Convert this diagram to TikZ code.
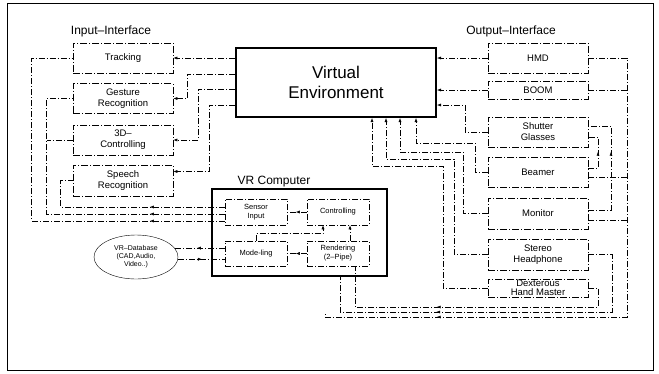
\documentclass[tikz,border=0pt]{standalone}
\usepackage{fontspec}
\setmainfont{Liberation Sans}
\usetikzlibrary{arrows.meta,shapes.geometric,decorations.markings}

\tikzset{
  link/.style={dash pattern=on 6pt off 2pt on 1pt off 2pt, line width=0.5pt},
  headarrow/.style={-{Latex[length=4pt,width=3pt]}},
  midtip/.style={postaction={decorate}, decoration={markings, mark=at position #1 with {\arrow{Latex[length=4pt,width=3pt]}}}},
  dev/.style={draw, dash pattern=on 7pt off 2pt on 1pt off 2pt, line width=0.6pt, minimum width=100pt, minimum height=30pt, inner sep=1pt, align=center, font=\fontsize{9.5}{11}\selectfont},
  unit/.style={draw, dash pattern=on 6pt off 2pt on 1pt off 2pt, line width=0.5pt, minimum width=62pt, minimum height=26pt, inner sep=1pt, align=center, font=\fontsize{7.5}{9}\selectfont},
  thickbox/.style={draw, line width=2pt, inner sep=0pt, align=center},
  grouplabel/.style={font=\fontsize{12}{14}\selectfont}
}

\begin{document}
\begin{tikzpicture}[x=1pt,y=-1pt]
  \useasboundingbox (0,0) rectangle (659,373);
  \draw[line width=1pt] (7,3) rectangle (653,370);

  \node[grouplabel] (inlbl) at (111,31) {Input--Interface};
  \node[grouplabel] (outlbl) at (511,31) {Output--Interface};
  \node[grouplabel] (vrlbl) at (274,182) {VR Computer};

  \node[thickbox, minimum width=200pt, minimum height=69pt, font=\fontsize{17}{20}\selectfont] (ve) at (336,82.5) {Virtual\\Environment};
  \node[thickbox, minimum width=175pt, minimum height=87pt] (vrc) at (299.5,232.5) {};

  \node[dev] (track) at (123,58) {Tracking};
  \node[dev] (gest) at (123,98.5) {Gesture\\Recognition};
  \node[dev] (ctl) at (123,140) {3D--\\Controlling};
  \node[dev, minimum height=31pt] (speech) at (123,180.5) {Speech\\Recognition};

  \node[dev] (hmd) at (538,58) {HMD};
  \node[dev, minimum height=18pt] (boom) at (538,90) {BOOM};
  \node[dev] (shutter) at (538,132) {Shutter\\Glasses};
  \node[dev] (beamer) at (538,172) {Beamer};
  \node[dev, minimum height=31pt] (monitor) at (538,213.5) {Monitor};
  \node[dev, minimum height=31pt] (phone) at (538,254.5) {Stereo\\Headphone};
  \node[dev, minimum height=18pt] (dexhand) at (538,288) {};
  \node[align=center, font=\fontsize{9.5}{9}\selectfont] (dexlbl) at (dexhand) {Dexterous\\Hand Master};

  \node[unit] (sensor) at (256,212) {Sensor\\Input};
  \node[unit] (control) at (338,212) {Controlling};
  \node[unit, minimum height=25pt] (model) at (256,253.5) {Mode-ling};
  \node[unit, minimum height=25pt] (render) at (338,253.5) {Rendering\\(2--Pipe)};
  \node[draw, ellipse, minimum width=84pt, minimum height=44pt, inner sep=0pt, align=center, font=\fontsize{7}{8}\selectfont] (vrdb) at (136,257) {VR--Database\\(CAD,Audio,\\Video..)};

  \draw[link,headarrow] (ve.west |- track.east) -- (track.east);
  \draw[link,headarrow] (ve.west |- 0,74) -| ([xshift=14pt]gest.east) -- (gest.east);
  \draw[link,headarrow] (ve.west |- 0,89) -| ([xshift=25pt]ctl.east) -- (ctl.east);
  \draw[link,headarrow] (ve.west |- 0,105) -| ([xshift=36pt,yshift=9pt]speech.east) -- ([yshift=9pt]speech.east);

  \draw[link,midtip=75pt] (sensor.west |- 0,221) -| ([xshift=-41pt]track.west) -- (track.west);
  \draw[link,midtip=75pt] (sensor.west |- 0,214) -| ([xshift=-26pt]gest.west) -- (gest.west);
  \draw[link] (ctl.west) -- ([xshift=-26pt]ctl.west);
  \draw[link,midtip=75pt] (sensor.west |- 0,207) -| ([xshift=-12pt]speech.west) -- (speech.west);

  \draw[link,midtip=11pt] (control.west) -- (sensor.east);
  \draw[link,midtip=11pt] (render.west) -- (model.east);
  \draw[link,headarrow] (model.north) |- ([xshift=-15pt,yshift=-8pt]control.south) -- ([xshift=-15pt]control.south);
  \draw[link,headarrow] ([xshift=12pt]render.north) -- ([xshift=12pt]control.south);

  \draw[link,midtip=28pt] (model.west |- vrdb.13) -- (vrdb.13);
  \draw[link,midtip=24pt] (vrdb.-3) -- (model.west |- vrdb.-3);

  \draw[link,headarrow] (hmd.west) -- (ve.east |- hmd.west);
  \draw[link,headarrow] (boom.west) -- (ve.east |- boom.west);
  \draw[link,headarrow] (shutter.west) -| (465,105) -- (ve.east |- 0,105);

  \draw[link,headarrow] (beamer.west) -| (475,143) -| ([xshift=80pt]ve.south);
  \draw[link,headarrow] (monitor.west) -| (463,152) -| ([xshift=64pt]ve.south);
  \draw[link,headarrow] (phone.west) -| (454,159) -| ([xshift=50pt]ve.south);
  \draw[link,headarrow] (dexhand.west) -| (443,166) -| ([xshift=36pt]ve.south);

  \draw[link,midtip=488pt] (hmd.east) -| (627,317) -- (325,317) -- (325,313);
  \draw[link] (boom.east) -- (627,90);
  \draw[link] ([yshift=-5pt]beamer.east) -- (627,177);
  \draw[link] ([yshift=-6.5pt]monitor.east) -- (627,220);
  \draw[link,midtip=81pt] ([yshift=3.5pt]monitor.east) -| (611,126) -- ([yshift=6pt]shutter.east);
  \draw[link,midtip=26pt] ([yshift=4pt]beamer.east) -| (598,137) -- ([yshift=-5pt]shutter.east);
  \draw[link,midtip=257pt] (phone.east) -| (612,312) -- (340,312) -- (vrc.south -| 340,0);
  \draw[link,midtip=190pt] (dexhand.east) -| (598,307) -- (355,307) -- ([xshift=17pt]render.south);
\end{tikzpicture}
\end{document}
